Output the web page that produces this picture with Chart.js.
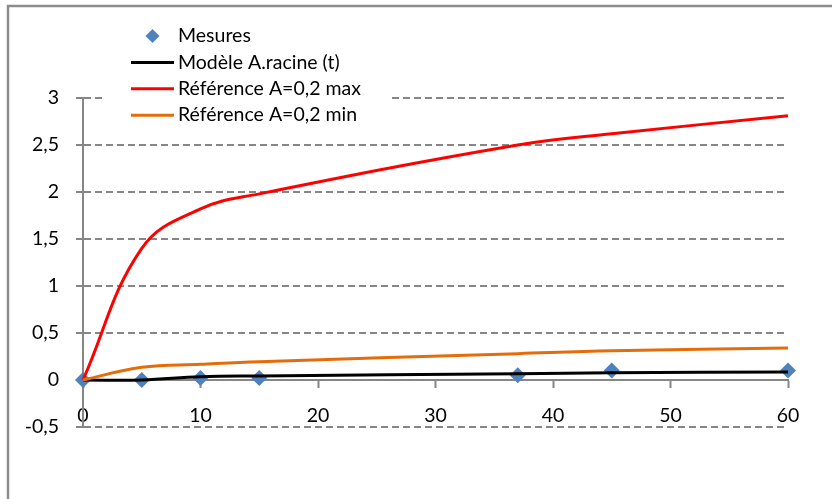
<!DOCTYPE html>
<html>
<head>
<meta charset="utf-8">
<script src="https://cdn.jsdelivr.net/npm/chart.js@4.4.1/dist/chart.umd.min.js"></script>
<style>
  html, body { margin: 0; padding: 0; background: #fff; }
  canvas { display: block; }
</style>
</head>
<body>
<canvas id="mesuresChart" width="832" height="499"></canvas>
<script>
// temps (x) et valeurs des séries
const temps = [0, 5, 10, 15, 37, 45, 60];
const mesures = [0, 0, 0.02, 0.02, 0.05, 0.1, 0.1];
const modele = [0, 0, 0.035, 0.043, 0.067, 0.077, 0.085];
const refMax = [0, 1.4, 1.82, 1.98, 2.5, 2.62, 2.81];
const refMin = [0, 0.135, 0.167, 0.195, 0.28, 0.31, 0.34];
const noms = ['Mesures', 'Modèle A.racine (t)', 'Référence A=0,2 max', 'Référence A=0,2 min'];

const POLICE = 'Lato';
const GRIS = '#868686';

function points(ys) {
    return temps.map((t, i) => ({ x: t, y: ys[i] }));
}

// cadre gauche et haut
const cadre = {
    id: 'cadre',
    afterDraw(chart) {
        const ctx = chart.ctx;
        ctx.save();
        ctx.strokeStyle = '#8c8c8c';
        ctx.lineWidth = 2.5;
        ctx.beginPath();
        ctx.moveTo(8, chart.height);
        ctx.lineTo(8, 6);
        ctx.lineTo(chart.width, 6);
        ctx.stroke();
        ctx.restore();
    }
};

// légende posée sur la zone du graphique
const legende = {
    id: 'legende',
    afterDraw(chart) {
        const ctx = chart.ctx;
        ctx.save();
        ctx.fillStyle = '#fff';
        ctx.fillRect(105, 20, 283, 108);
        ctx.font = '19.5px ' + POLICE;
        ctx.textBaseline = 'middle';
        ctx.textAlign = 'left';
        chart.data.datasets.forEach((ds, i) => {
            const y = 36 + i * 26.4;
            if (ds.showLine === false) {
                const r = 7;
                ctx.fillStyle = ds.backgroundColor;
                ctx.beginPath();
                ctx.moveTo(152.5, y - r);
                ctx.lineTo(152.5 + r, y);
                ctx.lineTo(152.5, y + r);
                ctx.lineTo(152.5 - r, y);
                ctx.closePath();
                ctx.fill();
            } else {
                ctx.strokeStyle = ds.borderColor;
                ctx.lineWidth = 3;
                ctx.beginPath();
                ctx.moveTo(131, y);
                ctx.lineTo(174, y);
                ctx.stroke();
            }
            ctx.fillStyle = '#000';
            ctx.fillText(ds.label, 178, y);
        });
        ctx.restore();
    }
};

const ctx = document.getElementById('mesuresChart').getContext('2d');
const graphique = new Chart(ctx, {
    type: 'line',
    data: {
        datasets: [
            {
                label: noms[0],
                data: points(mesures),
                showLine: false,
                pointStyle: 'rectRot',
                pointRadius: 8,
                pointBorderWidth: 0,
                backgroundColor: '#4F81BD',
                borderColor: '#4F81BD',
                order: 4,
                clip: false
            },
            {
                label: noms[1],
                data: points(modele),
                borderColor: '#000000',
                borderWidth: 3,
                pointRadius: 0,
                tension: 0.4,
                order: 3,
                clip: false
            },
            {
                label: noms[2],
                data: points(refMax),
                borderColor: '#FF0000',
                borderWidth: 3,
                pointRadius: 0,
                tension: 0.4,
                order: 2,
                clip: false
            },
            {
                label: noms[3],
                data: points(refMin),
                borderColor: '#E46C0A',
                borderWidth: 3,
                pointRadius: 0,
                tension: 0.4,
                order: 1,
                clip: false
            }
        ]
    },
    options: {
        responsive: false,
        animation: false,
        devicePixelRatio: 1,
        layout: {
            padding: { top: 98, right: 44, bottom: 72, left: 0 }
        },
        plugins: {
            legend: { display: false },
            tooltip: { enabled: false }
        },
        scales: {
            x: {
                type: 'linear',
                position: { y: 0 },
                min: 0,
                max: 60,
                ticks: {
                    stepSize: 10,
                    padding: 17,
                    color: '#000',
                    font: { family: POLICE, size: 19.5 }
                },
                grid: {
                    drawOnChartArea: false,
                    drawTicks: true,
                    tickLength: 7,
                    tickWidth: 2,
                    tickColor: GRIS,
                    tickBorderDash: []
                },
                border: { color: GRIS, width: 2 }
            },
            y: {
                type: 'linear',
                min: -0.5,
                max: 3,
                afterFit: function(scale) {
                    scale.width = 83;
                },
                ticks: {
                    stepSize: 0.5,
                    padding: 17,
                    color: '#000',
                    font: { family: POLICE, size: 19.5 },
                    callback: function(value) {
                        return String(value).replace('.', ',');
                    }
                },
                grid: {
                    color: GRIS,
                    lineWidth: 2,
                    tickLength: 7,
                    tickColor: GRIS,
                    tickBorderDash: []
                },
                border: { color: GRIS, width: 2, dash: [7, 4] }
            }
        }
    },
    plugins: [cadre, legende]
});
</script>
</body>
</html>
